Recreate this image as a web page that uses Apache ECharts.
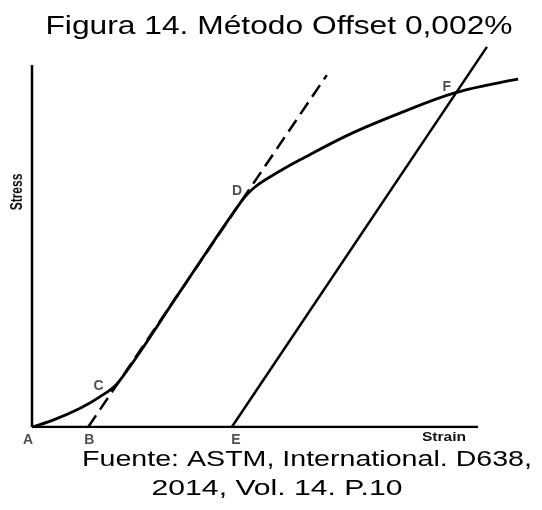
<!DOCTYPE html>
<html>
<head>
<meta charset="utf-8">
<script src="https://cdn.jsdelivr.net/npm/echarts@6/dist/echarts.min.js"></script>
<style>
  html, body { margin: 0; padding: 0; background: #fff; }
  #chart { width: 542px; height: 510px; }
</style>
</head>
<body>
<div id="chart"></div>
<script>
// curva principal stress-strain (unidades relativas, 0-100 = largo de los ejes)
var strainMain = [0, 4.7, 10.8, 15.2, 19.4, 33.3, 46.7, 50.0, 55.6, 60.1, 71.3, 82.5, 94.8, 109.0];
var stressMain = [0, 1.9, 5.2, 8.3, 12.4, 37.6, 61.9, 66.3, 70.7, 73.8, 80.9, 86.7, 92.3, 96.1];
// tangente (punteada) desde B y recta offset desde E
var strainTangent = [12.6, 66.1];
var stressTangent = [0, 97.2];
var strainOffset = [44.8, 102.0];
var stressOffset = [0, 105.0];
// ejes dibujados (largo de cada eje)
var strainAxis = [0, 100];
var stressAxis = [0, 100];
// puntos marcados
var pointNames = ['A', 'B', 'C', 'D', 'E', 'F'];
var pointStrain = [0, 12.6, 19.4, 48.9, 44.8, 94.8];
var pointStress = [0, 0, 12.4, 64.1, 0, 92.3];
var labelOffsets = [[-4, 13], [1, 13], [-20, 4], [-13, -4], [4, 13], [-8, -6]];

var titleText = 'Figura 14. Método Offset 0,002%';
var sourceLines = ['Fuente: ASTM, International. D638,', '2014, Vol. 14. P.10'];

function pairs(xs, ys) {
  var out = [];
  for (var i = 0; i < xs.length; i++) out.push([xs[i], ys[i]]);
  return out;
}

var chart = echarts.init(document.getElementById('chart'));

var lineStyle = { color: '#000', width: 2.5 };
var font = '"Liberation Sans", Arial, sans-serif';

var option = {
  backgroundColor: '#fff',
  animation: false,
  grid: { left: 32, right: 19.4, top: 36, bottom: 83 },
  xAxis: {
    type: 'value', min: 0, max: 110, show: false
  },
  yAxis: {
    type: 'value', min: 0, max: 108, show: false
  },
  graphic: [
    { type: 'text', x: 279, y: 27, scaleX: 1.27,
      style: { text: titleText, font: '25px ' + font, fill: '#000', align: 'center', verticalAlign: 'middle' } },
    { type: 'text', x: 307, y: 460, scaleX: 1.3,
      style: { text: sourceLines[0], font: '22px ' + font, fill: '#000', align: 'center', verticalAlign: 'middle' } },
    { type: 'text', x: 277, y: 489, scaleX: 1.37,
      style: { text: sourceLines[1], font: '22px ' + font, fill: '#000', align: 'center', verticalAlign: 'middle' } },
    { type: 'text', x: 17, y: 192, rotation: Math.PI / 2, scaleY: 1.4,
      style: { text: 'Stress', font: 'bold 12px ' + font, fill: '#111', align: 'center', verticalAlign: 'middle' } },
    { type: 'text', x: 444, y: 438, scaleX: 1.3,
      style: { text: 'Strain', font: 'bold 12px ' + font, fill: '#111', align: 'center', verticalAlign: 'middle' } }
  ],
  series: [
    {
      name: 'ejeX', type: 'line', data: pairs(strainAxis, [0, 0]),
      showSymbol: false, silent: true, lineStyle: lineStyle
    },
    {
      name: 'ejeY', type: 'line', data: pairs([0, 0], stressAxis),
      showSymbol: false, silent: true, lineStyle: lineStyle
    },
    {
      name: 'tangente', type: 'line', data: pairs(strainTangent, stressTangent),
      showSymbol: false,
      lineStyle: { color: '#000', width: 2.5, type: [14, 7] }
    },
    {
      name: 'curva', type: 'line', data: pairs(strainMain, stressMain),
      smooth: 0.35, showSymbol: false, lineStyle: { color: '#000', width: 2.8 }
    },
    {
      name: 'offset', type: 'line', data: pairs(strainOffset, stressOffset),
      showSymbol: false, lineStyle: lineStyle
    },
    {
      name: 'puntos', type: 'scatter', symbolSize: 0, silent: true, clip: false,
      data: pointNames.map(function (n, i) {
        return {
          value: [pointStrain[i], pointStress[i]], name: n,
          label: { offset: labelOffsets[i] }
        };
      }),
      label: {
        show: true, position: 'inside', formatter: '{b}',
        color: '#222', fontSize: 14, fontWeight: 'bold', fontFamily: font
      }
    }
  ]
};

chart.setOption(option);
</script>
</body>
</html>
